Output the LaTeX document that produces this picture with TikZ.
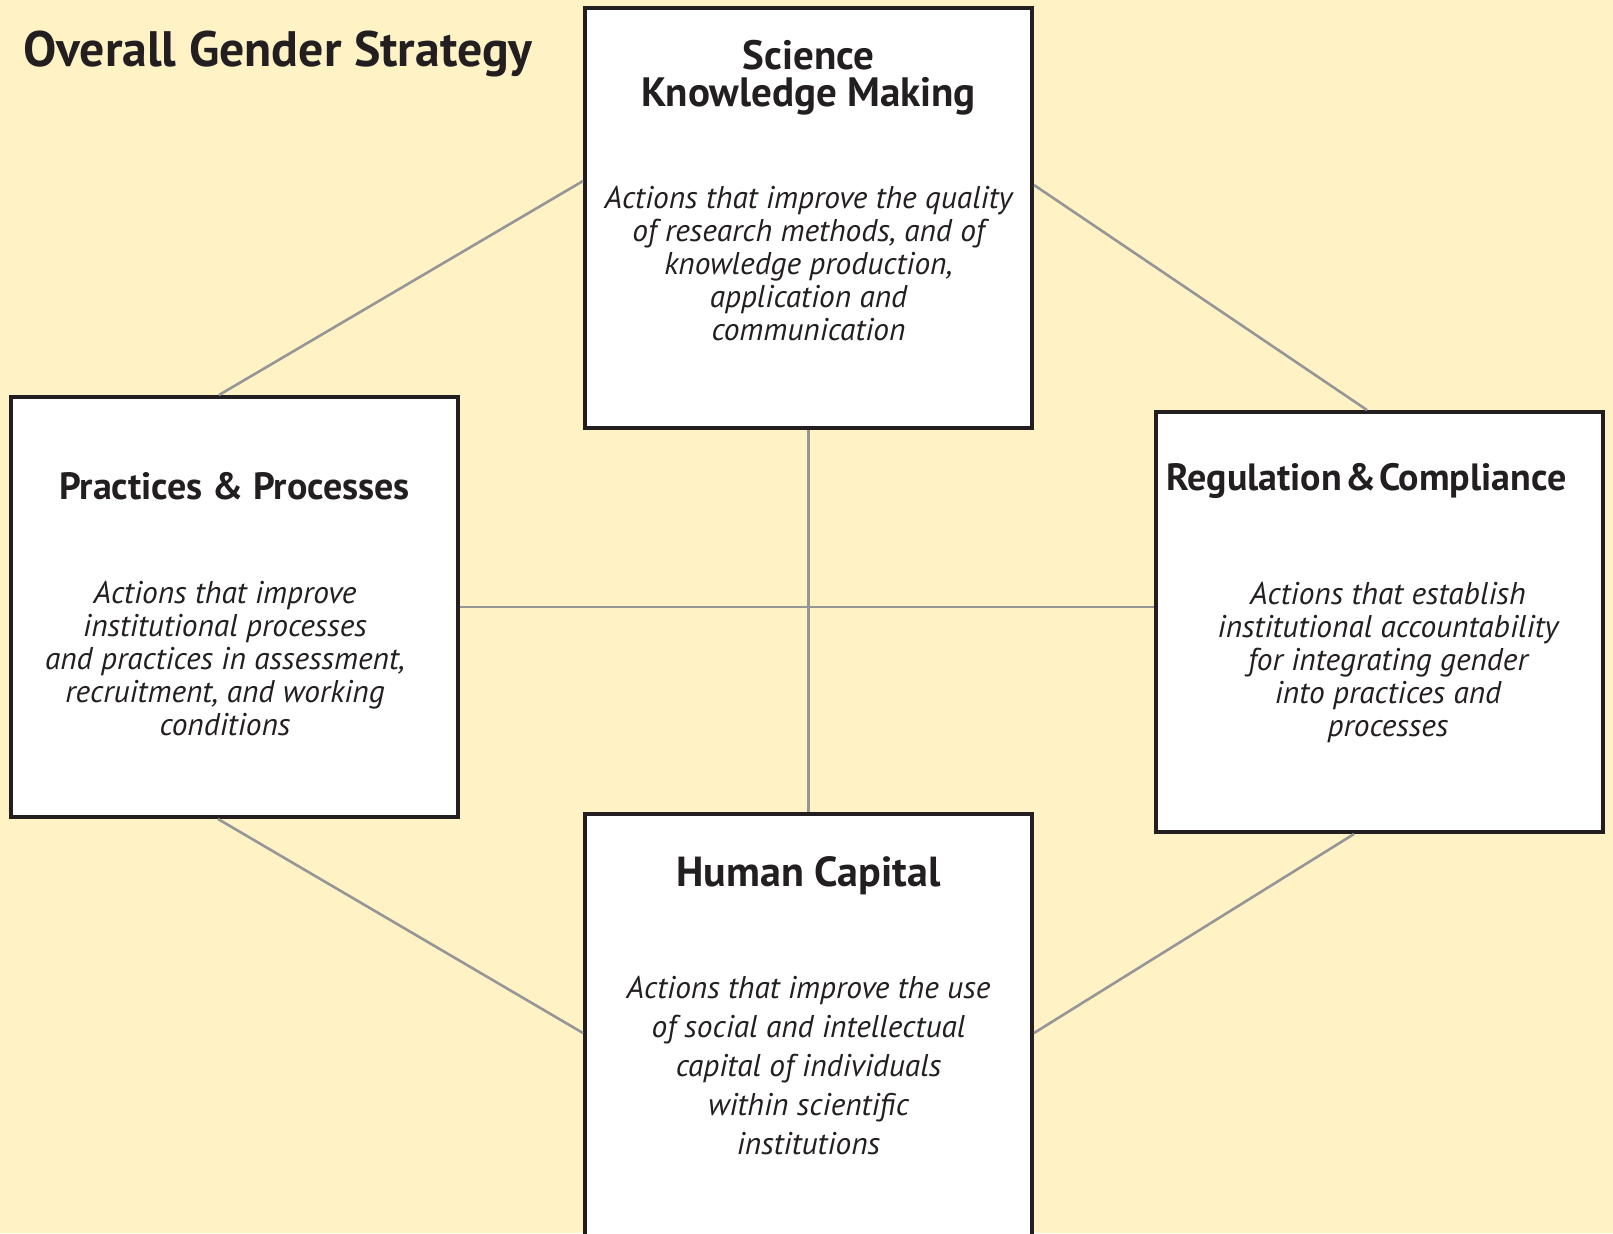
\documentclass[tikz,border=0pt]{standalone}
\usepackage{fontspec}
\setmainfont{PT Sans}
\usetikzlibrary{calc,positioning}
\definecolor{cream}{RGB}{255,243,198}
\definecolor{linkgray}{RGB}{150,150,150}
\definecolor{inkdark}{RGB}{35,31,32}

\begin{document}
\begin{tikzpicture}[x=0.5pt,y=-0.5pt,
  box/.style={draw=inkdark,line width=2pt,fill=white,minimum width=223.5pt,minimum height=210pt,inner sep=0pt},
  head/.style={font=\fontsize{19}{18}\selectfont\bfseries,text=inkdark,align=center,inner sep=0pt},
  body/.style={font=\fontsize{15.7}{16.5}\selectfont\itshape,text=inkdark,align=center,inner sep=0pt},
  link/.style={draw=linkgray,line width=1.3pt}]
\useasboundingbox (0,0) rectangle (1613,1233);
\clip (0,0) rectangle (1613,1233);
\fill[cream] (0,0) rectangle (1613,1233);

\node[anchor=north west,inner sep=0pt,text=inkdark,font=\fontsize{24.9}{24}\selectfont\bfseries] (title) at (23,31) {Overall Gender Strategy};

% the four boxes
\node[box] (sci) at (808.5,218) {};
\node[box] (prac) at (234.5,607) {};
\node[box] (reg) at (1379.5,622) {};
\node[box,minimum height=213pt] (hum) at (808.5,1027) {};

\node[head,font=\fontsize{20.5}{18}\selectfont\bfseries,below=17pt of sci.north] (scihead) {Science};
\node[head,font=\fontsize{20.5}{18}\selectfont\bfseries,below=3pt of scihead] (scihead2) {Knowledge Making};
\node[body,below=90pt of sci.north] (scibody) {Actions that improve the quality\\of research methods, and of\\knowledge production,\\application and\\communication};

\node[head,below=38.5pt of prac.north] (prachead) {Practices \& Processes};
\node[body,below=93pt of prac.north,xshift=-4.75pt] (pracbody) {Actions that improve\\institutional processes\\and practices in assessment,\\recruitment, and working\\conditions};

\node[head,below=26.5pt of reg.north,xshift=-6.5pt] (reghead) {Regulation\hspace{0.08em}\&\hspace{0.08em}Compliance};
\node[body,below=86pt of reg.north,xshift=4.25pt] (regbody) {Actions that establish\\institutional accountability\\for integrating gender\\into practices and\\processes};

\node[head,font=\fontsize{21}{18}\selectfont\bfseries,below=22pt of hum.north] (humhead) {Human Capital};
\node[body,font=\fontsize{15.7}{19.5}\selectfont\itshape,below=82pt of hum.north] (humbody) {Actions that improve the use\\of social and intellectual\\capital of individuals\\within scientific\\institutions};

% links between the boxes
\draw[link] ($(prac.north west)+(210,0)$) -- ($(sci.north west)+(0,175)$);
\draw[link] ($(sci.north east)+(0,179)$) -- ($(reg.north west)+(213,0)$);
\draw[link] ($(prac.south west)+(209,0)$) -- ($(hum.north west)+(0,221)$);
\draw[link] ($(reg.south west)+(200,0)$) -- ($(hum.north east)+(0,221)$);
\draw[link] (sci.south) -- (hum.north);
\draw[link] (prac.east) -- (prac.east -| reg.west);

\end{tikzpicture}
\end{document}
